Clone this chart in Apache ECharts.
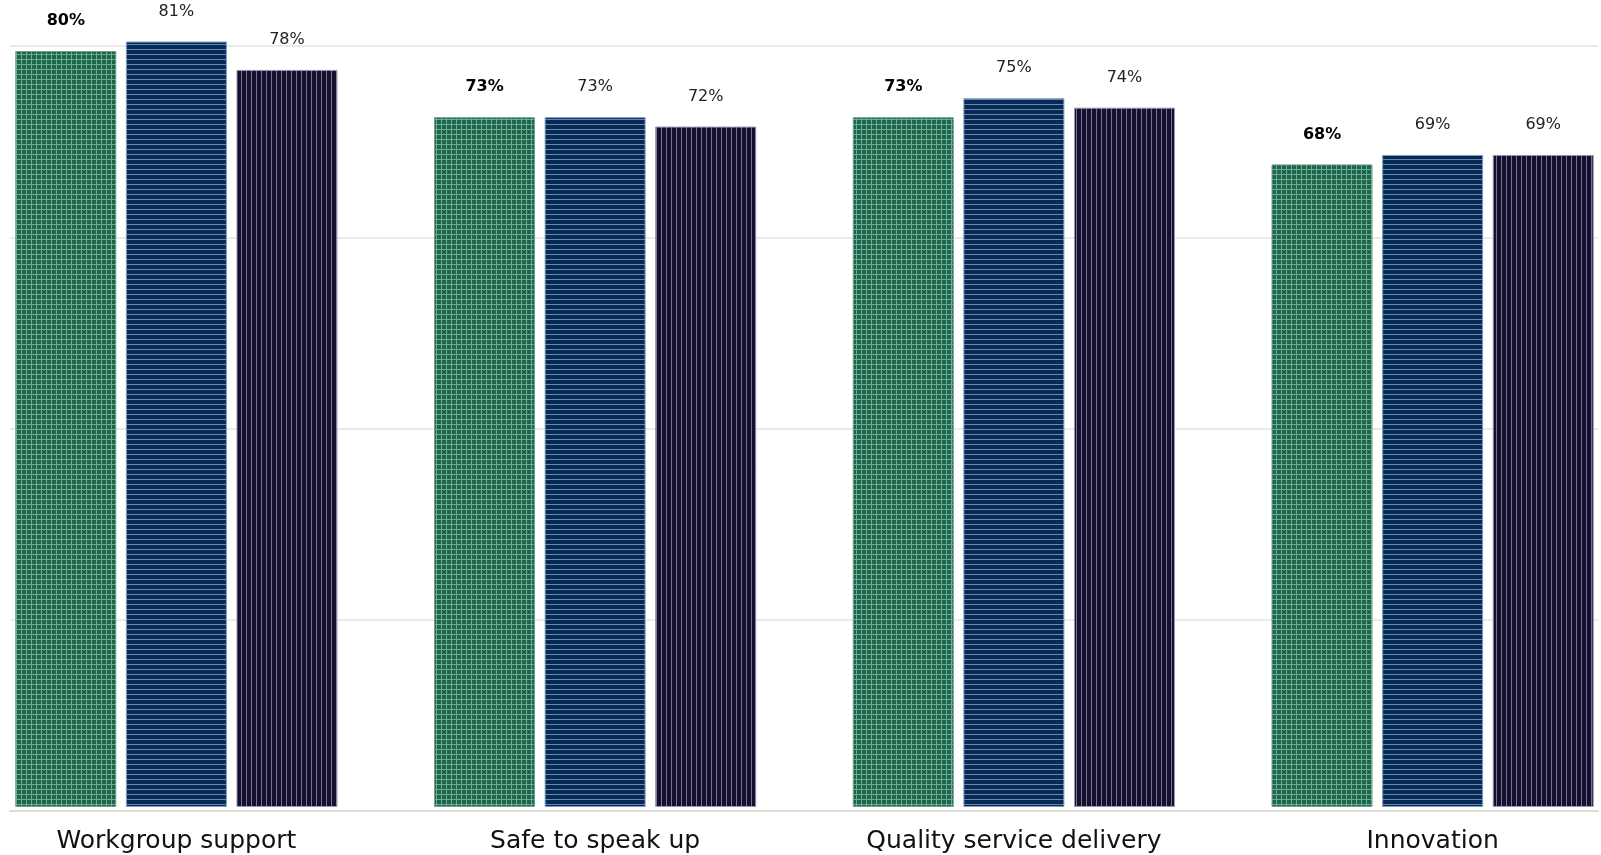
<!DOCTYPE html>
<html><head><meta charset="utf-8">
<script src="https://cdn.jsdelivr.net/npm/echarts@6/dist/echarts.min.js"></script>
<style>html,body{margin:0;padding:0;background:#fff;overflow:hidden;width:1601px;height:855px}#c{position:absolute;left:-33px;top:0;width:1675px;height:855px}</style>
</head><body><div id="c"></div><script>
const categories = ['Workgroup support', 'Safe to speak up', 'Quality service delivery', 'Innovation'];
const seriesNames = ['Your organisation', 'Comparator', 'Public sector'];
const valuesA = [80, 73, 73, 68];
const valuesB = [81, 73, 75, 69];
const valuesC = [78, 72, 74, 69];
const gridTicks = ['', '', '', '', ''];

function pattern(bg, line, mode) {
  const c = document.createElement('canvas');
  c.width = 5; c.height = 5;
  const x = c.getContext('2d');
  x.fillStyle = bg; x.fillRect(0, 0, 5, 5);
  x.fillStyle = line;
  if (mode.indexOf('h') >= 0) x.fillRect(0, 4, 5, 1);
  if (mode.indexOf('v') >= 0) x.fillRect(4, 0, 1, 5);
  return c;
}
const fills = [
  { image: pattern('#1a674c', '#74a994', 'hv'), repeat: 'repeat' },
  { image: pattern('#072a55', '#6586ad', 'h'), repeat: 'repeat' },
  { image: pattern('#15112c', '#77739a', 'v'), repeat: 'repeat' }
];
const borders = ['#6fa38d', '#7f9cc0', '#9a96b4'];
const FONT = 'DejaVu Sans';

function bar(i, data) {
  return {
    name: seriesNames[i], type: 'bar', xAxisIndex: 1, yAxisIndex: 1,
    data: data, barWidth: 101, barGap: '9.5%', clip: false,
    itemStyle: { color: fills[i], borderColor: borders[i], borderWidth: 1 },
    label: {
      show: true, position: 'top', distance: 22,
      formatter: '{c}%', fontFamily: FONT, fontSize: 16,
      fontWeight: i === 0 ? 'bold' : 'normal',
      color: i === 0 ? '#000' : '#222'
    }
  };
}

const chart = echarts.init(document.getElementById('c'), null, { renderer: 'canvas' });
chart.setOption({
  animation: false,
  backgroundColor: '#fff',
  grid: [
    { left: 43, right: 44, top: 46, bottom: 44 },
    { left: 0, right: 0, top: 51, bottom: 48 }
  ],
  xAxis: [
    { gridIndex: 0, type: 'category', data: [''],
      axisLine: { show: true, lineStyle: { color: '#deded6', width: 2 } },
      axisTick: { show: false }, axisLabel: { show: false } },
    { gridIndex: 1, type: 'category', data: categories,
      axisLine: { show: false }, axisTick: { show: false },
      axisLabel: { fontFamily: FONT, fontSize: 25, color: '#111', margin: 22 } }
  ],
  yAxis: [
    { gridIndex: 0, type: 'value', min: 0, max: gridTicks.length - 1, interval: 1,
      axisLine: { show: false }, axisTick: { show: false }, axisLabel: { show: false },
      splitLine: { show: true, lineStyle: { color: ['rgba(0,0,0,0)', '#e3e3e3', '#e3e3e3', '#e3e3e3', '#e3e3e3'], width: 1.5 } } },
    { gridIndex: 1, type: 'value', min: 0, max: 80, interval: 20,
      axisLine: { show: false }, axisTick: { show: false }, axisLabel: { show: false },
      splitLine: { show: false } }
  ],
  series: [bar(0, valuesA), bar(1, valuesB), bar(2, valuesC)]
});
</script></body></html>
